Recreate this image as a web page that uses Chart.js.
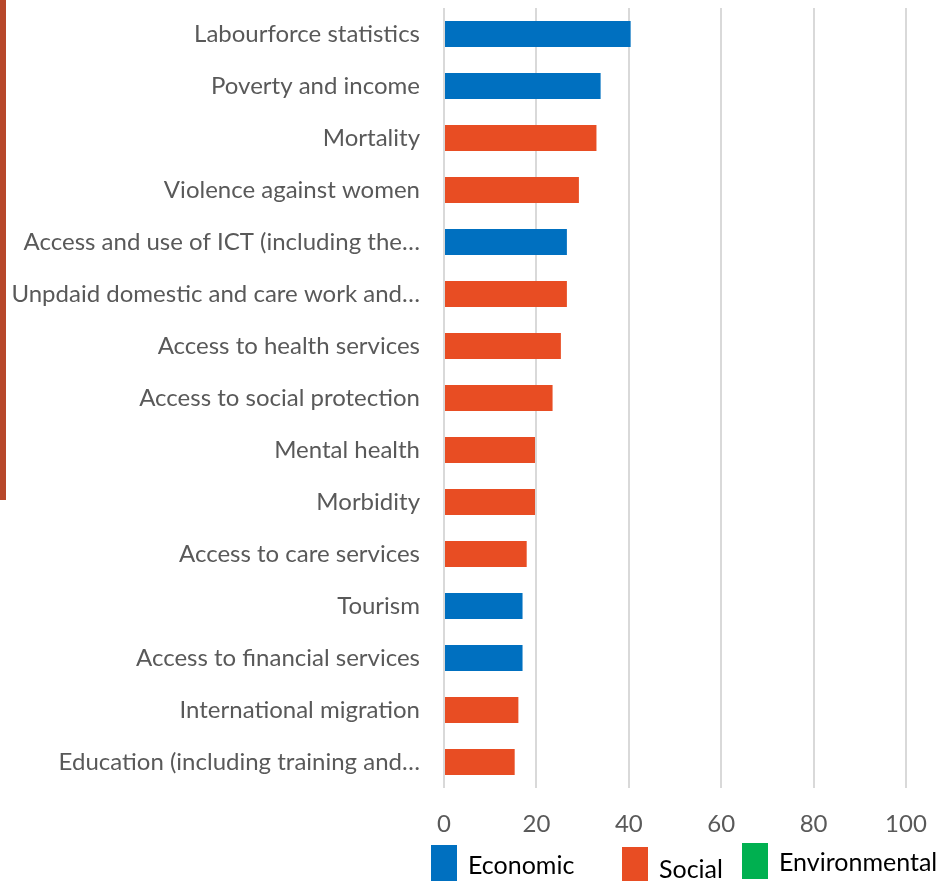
<!DOCTYPE html>
<html>
<head>
<meta charset="utf-8">
<script src="https://cdn.jsdelivr.net/npm/chart.js@4"></script>
<style>
    html, body { margin: 0; padding: 0; background: #fff; }
    #wrap { position: relative; width: 945px; height: 881px; }
    #side-bar { position: absolute; left: 0; top: 0; width: 6px; height: 500px; background: #B7472A; }
</style>
</head>
<body>
<div id="wrap">
    <div id="side-bar"></div>
    <canvas id="chart" width="945" height="881"></canvas>
</div>
<script>
const categories = [
    'Labourforce statistics',
    'Poverty and income',
    'Mortality',
    'Violence against women',
    'Access and use of ICT (including the\u2026',
    'Unpdaid domestic and care work and\u2026',
    'Access to health services',
    'Access to social protection',
    'Mental health',
    'Morbidity',
    'Access to care services',
    'Tourism',
    'Access to financial services',
    'International migration',
    'Education (including training and\u2026'
];
const values = [40.4, 33.9, 33, 29.2, 26.6, 26.6, 25.3, 23.5, 19.7, 19.7, 17.9, 17, 17, 16.1, 15.3];
const pillar = ['Economic', 'Economic', 'Social', 'Social', 'Economic', 'Social', 'Social', 'Social',
    'Social', 'Social', 'Social', 'Economic', 'Economic', 'Social', 'Social'];
const pillarNames = ['Economic', 'Social', 'Environmental'];
const pillarColors = ['#0070C0', '#E84D23', '#00B050'];
const xTicks = [0, 20, 40, 60, 80, 100];

// legend drawn by hand so it can sit where the original one is
const bottomLegend = {
    id: 'bottomLegend',
    afterDraw(chart) {
        const c = chart.ctx;
        const boxX = [431, 622, 742];
        const boxTop = [845, 847, 843];
        const textY = [866, 870, 863];
        c.save();
        c.font = '25px Lato';
        c.textBaseline = 'middle';
        pillarNames.forEach((name, i) => {
            c.fillStyle = pillarColors[i];
            c.fillRect(boxX[i], boxTop[i], 26, 36);
            c.fillStyle = '#000';
            c.fillText(name, boxX[i] + 37, textY[i]);
        });
        c.restore();
    }
};

window.addEventListener('DOMContentLoaded', () => {
    const datasets = pillarNames.map((name, i) => ({
        label: name,
        data: values.map((v, j) => pillar[j] === name ? v : null),
        backgroundColor: pillarColors[i],
        borderWidth: 0,
        barPercentage: 0.5,
        categoryPercentage: 1.0
    }));

    const ctx = document.getElementById('chart').getContext('2d');
    new Chart(ctx, {
        type: 'bar',
        data: { labels: categories, datasets: datasets },
        plugins: [bottomLegend],
        options: {
            indexAxis: 'y',
            responsive: false,
            animation: false,
            layout: { padding: { top: 8, right: 39, left: 0, bottom: 43 } },
            plugins: {
                tooltip: { enabled: false },
                legend: { display: false }
            },
            scales: {
                x: {
                    min: 0,
                    max: 100,
                    afterBuildTicks: (scale) => { scale.ticks = xTicks.map(v => ({ value: v })); },
                    afterFit: (scale) => {
                        scale.height = 50;
                        scale.paddingLeft = 0;
                        scale.paddingRight = 0;
                    },
                    grid: { color: '#D9D9D9', lineWidth: 2, drawTicks: false },
                    border: { display: false },
                    ticks: { color: '#595959', padding: 22, font: { family: 'Lato', size: 24 } }
                },
                y: {
                    stacked: true,
                    afterFit: (scale) => {
                        scale.width = 444;
                        scale.paddingTop = 0;
                        scale.paddingBottom = 0;
                    },
                    grid: { display: false, drawTicks: false },
                    border: { display: false },
                    ticks: { color: '#595959', padding: 24, font: { family: 'Lato', size: 24 } }
                }
            }
        }
    });
});
</script>
</body>
</html>
